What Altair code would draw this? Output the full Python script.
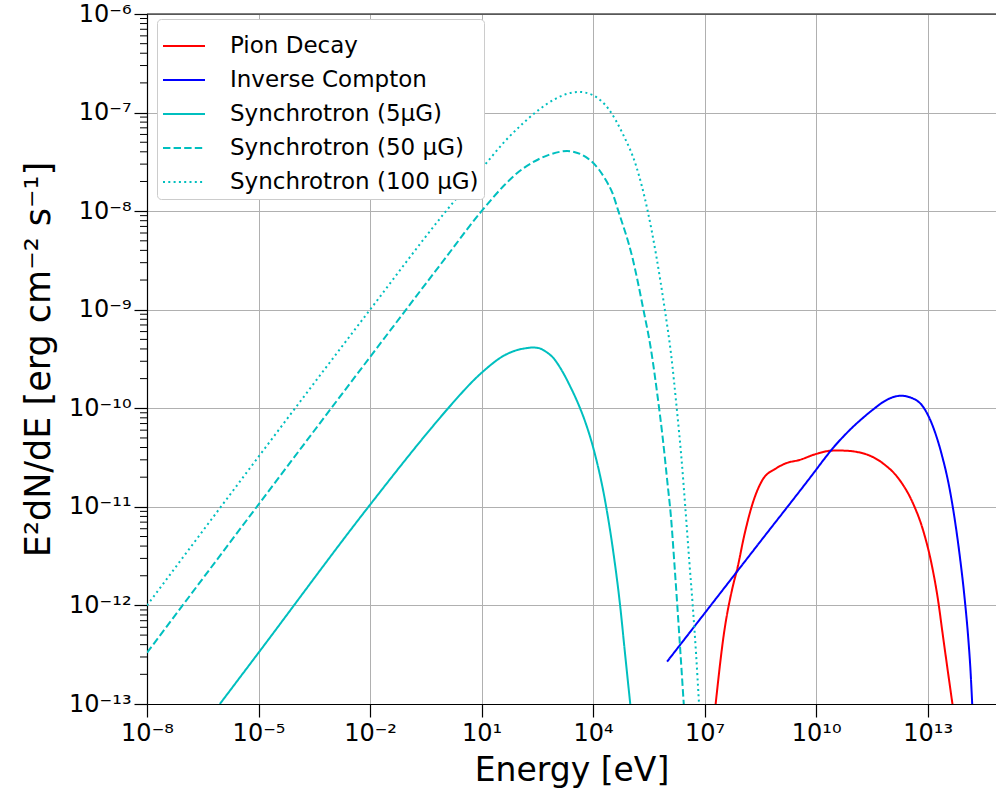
import altair as alt
import pandas as pd

# ---------------- data ----------------
series_names = ["Pion Decay", "Inverse Compton", "Synchrotron (5μG)",
                "Synchrotron (50 μG)", "Synchrotron (100 μG)"]
series_colors = ["#ff0000", "#0000ff", "#00bfbf", "#00bfbf", "#00bfbf"]
series_dashes = [[1, 0], [1, 0], [1, 0], [7.4, 3.2], [2, 3.3]]

pion_energy = [1.98e7, 3.33e7, 5.60e7, 7.64e7, 1.16e8, 1.94e8, 3.62e8, 8.30e8,
               1.55e9, 3.55e9, 1.0e10, 2.82e10, 5.15e10, 1.79e11, 6.21e11,
               1.75e12, 4.02e12, 7.48e12, 1.26e13, 1.90e13, 2.59e13, 3.55e13, 4.65e13]
pion_flux = [1.0e-13, 5.25e-13, 1.50e-12, 2.39e-12, 5.08e-12, 1.07e-11, 1.88e-11, 2.45e-11,
             2.77e-11, 2.99e-11, 3.44e-11, 3.72e-11, 3.72e-11, 3.50e-11, 2.77e-11,
             1.88e-11, 1.09e-11, 5.85e-12, 2.69e-12, 1.14e-12, 4.85e-13, 2.06e-13, 1.0e-13]

ic_energy = [9.79e5, 1.0e7, 3.16e8, 1.0e10, 1.58e10, 2.82e10, 5.62e10, 1.0e11, 1.78e11,
             3.55e11, 6.17e11, 1.12e12, 1.95e12, 3.98e12, 7.48e12, 1.39e13, 2.34e13,
             3.94e13, 5.37e13, 7.33e13, 1.0e14, 1.23e14, 1.42e14, 1.58e14]
ic_flux = [2.69e-13, 8.32e-13, 4.45e-12, 2.38e-11, 2.99e-11, 3.94e-11, 5.25e-11, 6.53e-11,
           7.94e-11, 9.84e-11, 1.15e-10, 1.29e-10, 1.34e-10, 1.26e-10, 1.04e-10, 6.52e-11,
           3.50e-11, 1.49e-11, 7.41e-12, 3.16e-12, 1.13e-12, 4.79e-13, 2.21e-13, 1.0e-13]

syn5_energy = [9.12e-7, 1.0e-5, 1.0e-2, 0.447, 1.26, 10, 42.7, 89.1, 158, 240, 355, 509,
               851, 1432, 2399, 4027, 6310, 1.0e4, 2.09e4, 3.55e4, 5.37e4, 7.24e4, 1.0e5]
syn5_flux = [1.0e-13, 3.31e-13, 1.05e-11, 6.31e-11, 1.0e-10, 2.29e-10, 3.47e-10, 3.89e-10,
             4.07e-10, 4.14e-10, 4.07e-10, 3.80e-10, 3.24e-10, 2.43e-10, 1.68e-10, 1.10e-10,
             7.08e-11, 4.03e-11, 1.17e-11, 3.35e-12, 9.77e-13, 3.24e-13, 1.0e-13]

syn50_energy = [1e-8, 1e-2, 1.0, 10, 42.7, 100, 226, 646, 1995, 6310, 1.45e4, 2.16e4, 3.31e4,
                4.79e4, 1.14e5, 2.26e5, 3.58e5, 5.42e5, 7.41e5, 1.01e6, 1.25e6, 1.53e6,
                2.09e6, 2.75e6]
syn50_flux = [3.31e-13, 3.31e-10, 3.24e-9, 1.0e-8, 1.86e-8, 2.51e-8, 3.09e-8, 3.72e-8, 4.07e-8,
              3.55e-8, 2.63e-8, 2.09e-8, 1.53e-8, 1.0e-8, 3.39e-9, 1.0e-9, 4.03e-10, 1.33e-10,
              5.13e-11, 1.70e-11, 7.76e-12, 2.75e-12, 4.90e-13, 1.0e-13]

syn100_energy = [1e-8, 1e-2, 1.0, 12.3, 42.7, 100, 279, 977, 2000, 4169, 9550, 2.69e4,
                 6.17e4, 1.45e5, 2.95e5, 8.51e5, 1.26e6, 1.78e6, 2.40e6, 3.02e6, 3.89e6,
                 4.79e6, 5.89e6, 7.08e6]
syn100_flux = [1.0e-12, 1.0e-9, 9.55e-9, 2.95e-8, 5.13e-8, 7.08e-8, 1.0e-7, 1.38e-7, 1.55e-7,
               1.62e-7, 1.51e-7, 1.07e-7, 6.17e-8, 2.85e-8, 1.0e-8, 1.0e-9, 3.47e-10,
               1.0e-10, 3.02e-11, 1.0e-11, 2.75e-12, 1.0e-12, 3.24e-13, 1.0e-13]

x_ticks = [1e-8, 1e-5, 1e-2, 1e1, 1e4, 1e7, 1e10, 1e13]
y_ticks = [1e-13, 1e-12, 1e-11, 1e-10, 1e-9, 1e-8, 1e-7, 1e-6]
y_minor = [k * 10.0 ** n for n in range(-13, -6) for k in range(2, 10)]

# ---------------- tables ----------------
rows = []
for name, es, fs in [(series_names[0], pion_energy, pion_flux),
                     (series_names[1], ic_energy, ic_flux),
                     (series_names[2], syn5_energy, syn5_flux),
                     (series_names[3], syn50_energy, syn50_flux),
                     (series_names[4], syn100_energy, syn100_flux)]:
    for i, (e, f) in enumerate(zip(es, fs)):
        rows.append({"series": name, "energy": e, "flux": f, "order": i})
df = pd.DataFrame(rows)
minor_df = pd.DataFrame({"flux": y_minor})

# superscript labels 10^n
sup = {"0": "⁰", "1": "¹", "2": "²", "3": "³", "4": "⁴", "5": "⁵",
       "6": "⁶", "7": "⁷", "8": "⁸", "9": "⁹", "-": "⁻"}
s = "('' + round(log(datum.value) / LN10))"
for c, r in sup.items():
    s = f"replace({s}, regexp('{c}', 'g'), '{r}')"
label_expr = "'10' + " + s

FONT = "DejaVu Sans"
W, H = 849, 690
y_title = "E²dN/dE [erg cm⁻² s⁻¹]"

x_scale = alt.Scale(type="log", domain=[1e-8, 6.9e14], nice=False)
y_scale = alt.Scale(type="log", domain=[1e-13, 1e-6], nice=False)

legend = alt.Legend(
    title=None, orient="none", legendX=10, legendY=5,
    symbolType="stroke", symbolSize=1764, symbolStrokeWidth=2,
    labelFontSize=23, labelFont=FONT, labelColor="black", labelOffset=24,
    rowPadding=-8, padding=5, fillColor="white", strokeColor="#cccccc",
    cornerRadius=4, labelLimit=400,
)

lines = alt.Chart(df).mark_line(strokeWidth=2, clip=True, interpolate="monotone").encode(
    x=alt.X("energy:Q", scale=x_scale, title="Energy [eV]",
            axis=alt.Axis(values=x_ticks, labelExpr=label_expr, grid=True,
                          gridColor="#b0b0b0", gridWidth=1,
                          tickSize=13, tickWidth=1.2, tickColor="black",
                          domainColor="black", domainWidth=1.2,
                          labelFontSize=24, labelFont=FONT, labelColor="black",
                          labelPadding=4, labelOverlap=False, labelFlush=False,
                          titleFontSize=33, titleFont=FONT, titleFontWeight="normal",
                          titleColor="black", titleY=76, titleBaseline="alphabetic")),
    y=alt.Y("flux:Q", scale=y_scale, title=y_title,
            axis=alt.Axis(values=y_ticks, labelExpr=label_expr, grid=True,
                          gridColor="#b0b0b0", gridWidth=1,
                          tickSize=13, tickWidth=1.2, tickColor="black",
                          domainColor="black", domainWidth=1.2,
                          labelFontSize=24, labelFont=FONT, labelColor="black",
                          labelPadding=3, labelOverlap=False, labelFlush=False,
                          titleFontSize=35, titleFont=FONT, titleFontWeight="normal",
                          titleColor="black", titleX=-109, titleY=H / 2,
                          titleAngle=270, titleAlign="center", titleBaseline="middle")),
    color=alt.Color("series:N", scale=alt.Scale(domain=series_names, range=series_colors),
                    legend=legend),
    strokeDash=alt.StrokeDash("series:N", scale=alt.Scale(domain=series_names, range=series_dashes),
                              legend=legend),
    order="order:Q",
)

minor_ticks = alt.Chart(minor_df).mark_rule(color="black", strokeWidth=1).encode(
    y=alt.Y("flux:Q", scale=y_scale, title=y_title),
    x=alt.value(-7), x2=alt.value(0),
)

top_spine = alt.Chart(pd.DataFrame({"a": [0]})).mark_rule(color="black", strokeWidth=1.2).encode(
    x=alt.value(0), x2=alt.value(W), y=alt.value(0),
)

chart = alt.layer(lines, minor_ticks, top_spine).properties(
    width=W, height=H,
    autosize=alt.AutoSizeParams(type="none"),
    padding={"left": 147, "top": 14, "right": 0, "bottom": 90},
).configure_view(stroke=None).configure(font=FONT)

chart.save("out.html", embed_options={"renderer": "svg", "actions": False})
